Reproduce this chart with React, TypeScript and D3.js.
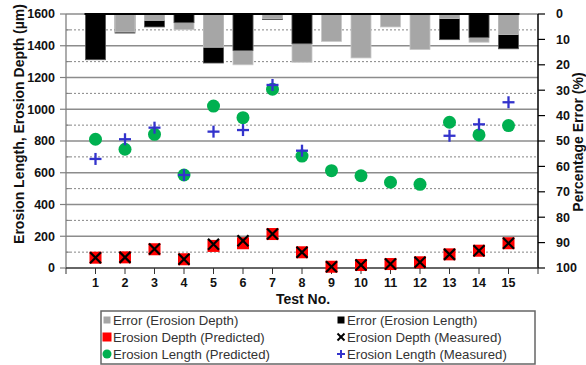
import * as d3 from "d3";

const tests = [1, 2, 3, 4, 5, 6, 7, 8, 9, 10, 11, 12, 13, 14, 15];
const lengthPred = [811, 748, 842, 586, 1020, 947, 1126, 705, 613, 581, 540, 527, 918, 838, 897];
const lengthMeas = [687, 811, 884, 586, 859, 869, 1153, 739, null, null, null, null, 833, 905, 1044];
const depthPred = [65, 67, 118, 55, 139, 156, 214, 99, 8, 19, 25, 36, 86, 109, 156];
const depthMeas = [65, 67, 120, 55, 149, 172, 214, 99, 8, 19, 25, 36, 86, 109, 156];
const errDepth = [0, 7.1, 2.5, 6.2, 13.1, 20.0, 1.8, 19.0, 10.8, 17.3, 5.1, 14.0, 1.8, 11.1, 8.1];
const errLength = [18.0, 7.5, 5.1, 3.4, 19.3, 14.4, 2.2, 11.7, 0, 0, 0, 0, 10.1, 9.2, 13.7];

const leftTicks = [0, 200, 400, 600, 800, 1000, 1200, 1400, 1600];
const rightTicks = [0, 10, 20, 30, 40, 50, 60, 70, 80, 90, 100];

const FONT = "'Liberation Sans', Arial, sans-serif";
const GRAY = "#a6a6a6";
const GREEN = "#00b050";
const BLUE = "#3333cc";

export default function App() {
  const x = d3.scaleLinear().domain([0, 16]).range([66, 538]);
  const y = d3.scaleLinear().domain([0, 1600]).range([268, 14]);
  const yp = d3.scaleLinear().domain([0, 100]).range([14, 268]);
  const barW = 20;

  const minor = d3.range(100, 1600, 200);

  // draw longer error bar first so the shorter one sits on top
  const bars = tests.flatMap((t, i) => {
    const pair = [
      { v: errDepth[i], c: GRAY, s: "#c8c8c8" },
      { v: errLength[i], c: "#000", s: "#555" },
    ].filter((b) => b.v > 0);
    pair.sort((a, b) => b.v - a.v);
    return pair.map((b, j) => (
      <rect
        key={`b${t}-${j}`}
        x={x(t) - barW / 2}
        y={yp(0)}
        width={barW}
        height={yp(b.v) - yp(0)}
        fill={b.c}
        stroke={b.s}
        strokeWidth={0.8}
      />
    ));
  });

  const cross = (cx: number, cy: number, r: number, color: string, w: number, k: string) => (
    <g key={k} stroke={color} strokeWidth={w}>
      <line x1={cx - r} y1={cy - r} x2={cx + r} y2={cy + r} />
      <line x1={cx - r} y1={cy + r} x2={cx + r} y2={cy - r} />
    </g>
  );
  const plus = (cx: number, cy: number, r: number, color: string, w: number, k: string) => (
    <g key={k} stroke={color} strokeWidth={w}>
      <line x1={cx - r} y1={cy} x2={cx + r} y2={cy} />
      <line x1={cx} y1={cy - r} x2={cx} y2={cy + r} />
    </g>
  );

  const legendRows = [
    { col: 0, row: 0, label: "Error (Erosion Depth)", kind: "gray" },
    { col: 1, row: 0, label: "Error (Erosion Length)", kind: "black" },
    { col: 0, row: 1, label: "Erosion Depth (Predicted)", kind: "red" },
    { col: 1, row: 1, label: "Erosion Depth (Measured)", kind: "x" },
    { col: 0, row: 2, label: "Erosion Length (Predicted)", kind: "circle" },
    { col: 1, row: 2, label: "Erosion Length (Measured)", kind: "plus" },
  ];
  const legendMarker = (kind: string, cx: number, cy: number, k: string) => {
    if (kind === "gray") return <rect key={k} x={cx - 3.5} y={cy - 3.5} width={7} height={7} fill={GRAY} />;
    if (kind === "black") return <rect key={k} x={cx - 3.5} y={cy - 3.5} width={7} height={7} fill="#000" />;
    if (kind === "red") return <rect key={k} x={cx - 4.5} y={cy - 4.5} width={9} height={9} fill="#ff0000" />;
    if (kind === "circle") return <circle key={k} cx={cx} cy={cy} r={4.5} fill={GREEN} />;
    if (kind === "x") return cross(cx, cy, 3.5, "#000", 2, k);
    return plus(cx, cy, 4, BLUE, 2, k);
  };

  return (
    <svg
      width={586}
      height={365}
      style={{ position: "absolute", left: 0, top: 0, background: "#fff" }}
      fontFamily={FONT}
    >
      {/* grid */}
      {minor.map((v) => (
        <line key={`m${v}`} x1={66} x2={538} y1={y(v)} y2={y(v)} stroke="#777" strokeWidth={0.9} strokeDasharray="2,2" />
      ))}
      {leftTicks.filter((v) => v > 0).map((v) => (
        <line key={`g${v}`} x1={66} x2={538} y1={y(v)} y2={y(v)} stroke="#8c8c8c" strokeWidth={1.3} />
      ))}

      {bars}
      <line x1={x(1) - barW / 2 - 1} x2={x(15) + barW / 2 + 1} y1={yp(0)} y2={yp(0)} stroke="#000" strokeWidth={2} />

      {/* left axis */}
      <line x1={66} x2={66} y1={14} y2={268} stroke="#808080" strokeWidth={1.3} />
      {leftTicks.map((v) => (
        <g key={`lt${v}`}>
          <line x1={60} x2={66} y1={y(v)} y2={y(v)} stroke="#808080" strokeWidth={1.2} />
          <text x={55} y={y(v)} dy="0.35em" textAnchor="end" fontSize={12.5} fontWeight="bold" fill="#111">
            {v}
          </text>
        </g>
      ))}
      {minor.map((v) => (
        <line key={`mt${v}`} x1={66} x2={70} y1={y(v)} y2={y(v)} stroke="#808080" strokeWidth={1} />
      ))}

      {/* right axis */}
      <line x1={538} x2={538} y1={14} y2={268} stroke="#000" strokeWidth={1.5} />
      {rightTicks.map((v) => (
        <g key={`rt${v}`}>
          <line x1={538} x2={545} y1={yp(v)} y2={yp(v)} stroke="#000" strokeWidth={1.2} />
          <text x={556} y={yp(v)} dy="0.35em" fontSize={12.5} fontWeight="bold" fill="#111">
            {v}
          </text>
        </g>
      ))}

      {/* bottom axis */}
      <line x1={66} x2={538} y1={268} y2={268} stroke="#333" strokeWidth={1.3} />
      {d3.range(0, 17).map((t) => (
        <line key={`xt${t}`} x1={x(t)} x2={x(t)} y1={268} y2={274} stroke="#333" strokeWidth={1} />
      ))}
      {tests.map((t) => (
        <text key={`xl${t}`} x={x(t)} y={283} dy="0.35em" textAnchor="middle" fontSize={12.5} fontWeight="bold" fill="#111">
          {t}
        </text>
      ))}

      {/* markers */}
      {tests.map((t, i) => (
        <rect key={`dp${t}`} x={x(t) - 6} y={y(depthPred[i]) - 6} width={12} height={12} fill="#ff0000" />
      ))}
      {tests.map((t, i) => cross(x(t), y(depthMeas[i]), 5.5, "#000", 2.2, `dm${t}`))}
      {tests.map((t, i) => (
        <circle key={`lp${t}`} cx={x(t)} cy={y(lengthPred[i])} r={6.5} fill={GREEN} />
      ))}
      {tests.map((t, i) => {
        const v = lengthMeas[i];
        return v == null ? null : plus(x(t), y(v), 6, BLUE, 2.3, `lm${t}`);
      })}

      {/* titles */}
      <text x={303} y={299} dy="0.35em" textAnchor="middle" fontSize={14} fontWeight="bold" fill="#111">
        Test No.
      </text>
      <text
        transform={`translate(19,124) rotate(-90)`}
        textAnchor="middle"
        dy="0.35em"
        fontSize={14}
        fontWeight="bold"
        fill="#111"
      >
        Erosion Length, Erosion Depth (µm)
      </text>
      <text
        transform={`translate(578,142) rotate(-90)`}
        textAnchor="middle"
        dy="0.35em"
        fontSize={14}
        fontWeight="bold"
        fill="#111"
      >
        Percentage Error (%)
      </text>

      {/* legend */}
      <rect x={101} y={311} width={434} height={53} fill="#fff" stroke="#666" strokeWidth={1.5} />
      {legendRows.map((r, i) => {
        const mx = r.col === 0 ? 107 : 341;
        const cy = 320 + r.row * 17;
        return (
          <g key={`lg${i}`}>
            {legendMarker(r.kind, mx, cy, `lgm${i}`)}
            <text x={mx + 6} y={cy} dy="0.35em" fontSize={13.2} fill="#333">
              {r.label}
            </text>
          </g>
        );
      })}
    </svg>
  );
}
